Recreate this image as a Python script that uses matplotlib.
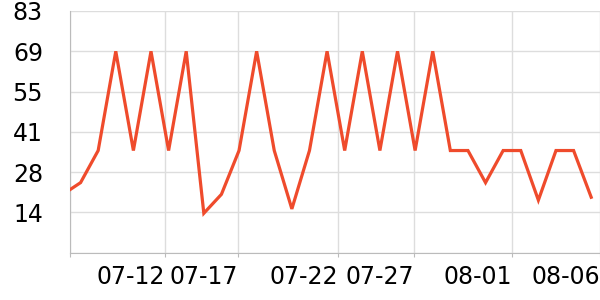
import matplotlib
matplotlib.use("Agg")
import matplotlib.pyplot as plt

# daily values, 07-07 .. 08-06
dates = ['07-07', '07-08', '07-09', '07-10', '07-11', '07-12', '07-13', '07-14',
         '07-15', '07-16', '07-17', '07-18', '07-19', '07-20', '07-21', '07-22',
         '07-23', '07-24', '07-25', '07-26', '07-27', '07-28', '07-29', '07-30',
         '07-31', '08-01', '08-02', '08-03', '08-04', '08-05', '08-06']
values = [20, 24, 35, 69, 35, 69, 35, 69, 13.5, 20, 35, 69, 35, 15, 35, 69,
          35, 69, 35, 69, 35, 69, 35, 35, 24, 35, 35, 18, 35, 35, 19]

y_max = 82.8
y_ticks = [0, 13.8, 27.6, 41.4, 55.2, 69, 82.8]
y_labels = ['', '14', '28', '41', '55', '69', '83']

x_ticks = [0.4, 5.77, 9.96, 15.64, 19.96, 25.5, 30.5]
x_labels = ['', '07-12', '07-17', '07-22', '07-27', '08-01', '08-06']

fig = plt.figure(figsize=(6, 3), dpi=100)
ax = fig.add_axes([70 / 600, 47.3 / 300, 530 / 600, 241.7 / 300])

x = list(range(len(values)))
ax.plot(x, values, color='#ef4b2c', linewidth=2.3, solid_joinstyle='miter', zorder=3)

ax.set_xlim(0.4, 30.5)
ax.set_ylim(0, y_max)
ax.set_yticks(y_ticks)
ax.set_yticklabels(y_labels, fontsize=17)
ax.set_xticks(x_ticks)
ax.set_xticklabels(x_labels, fontsize=17, ha='right')

ax.grid(True, color='#dddddd', linewidth=1)
ax.set_axisbelow(True)
for side in ['top', 'right']:
    ax.spines[side].set_visible(False)
for side in ['left', 'bottom']:
    ax.spines[side].set_color('#bbbbbb')
ax.tick_params(axis='y', length=0, pad=19.5)
ax.tick_params(axis='x', length=3, color='#bbbbbb', pad=5.5)

fig.savefig('out.png', dpi=100)
